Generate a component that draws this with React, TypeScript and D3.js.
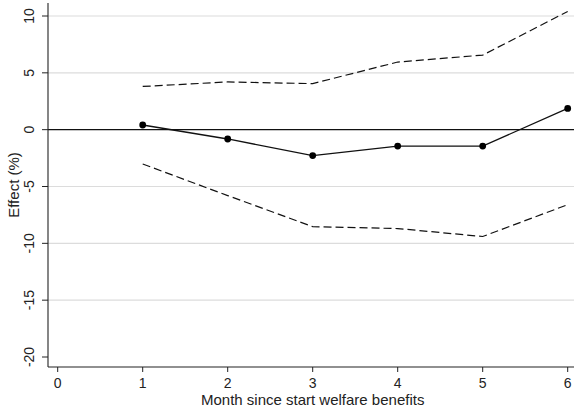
import React from "react";
import * as d3 from "d3";

const months = [1, 2, 3, 4, 5, 6];
const effect = [0.41, -0.82, -2.28, -1.44, -1.44, 1.87];
const upper = [3.8, 4.2, 4.05, 5.95, 6.56, 10.4];
const lower = [-3.02, -5.8, -8.53, -8.7, -9.4, -6.6];
const xTicks = [0, 1, 2, 3, 4, 5, 6];
const yTicks = [10, 5, 0, -5, -10, -15, -20];
const gridTicks = [10, 5, -5, -10, -15];

const W = 574;
const H = 411;
const FONT = "'Liberation Sans', Arial, Helvetica, sans-serif";

export default function App() {
  const x = d3.scaleLinear().domain([0, 6]).range([57.7, 567.7]);
  const y = d3.scaleLinear().domain([-20, 10]).range([357, 16]);
  const left = 48;
  const bottom = 367;
  const top = 3;

  const line = d3
    .line<number>()
    .x((_, i) => x(months[i]))
    .y((d) => y(d));

  return (
    <svg
      width={W}
      height={H}
      style={{ position: "absolute", left: 0, top: 0, background: "#fff" }}
      fontFamily={FONT}
    >
      <rect x={0} y={0} width={W} height={H} fill="#fff" />
      {gridTicks.map((t) => (
        <line key={t} x1={left} x2={W} y1={y(t)} y2={y(t)} stroke="#dcdcdc" strokeWidth={1.2} />
      ))}
      <line x1={left} x2={W} y1={y(0)} y2={y(0)} stroke="#111" strokeWidth={1.3} />
      <path d={line(upper) || ""} fill="none" stroke="#111" strokeWidth={1.2} strokeDasharray="8,4" />
      <path d={line(lower) || ""} fill="none" stroke="#111" strokeWidth={1.2} strokeDasharray="8,4" />
      <path d={line(effect) || ""} fill="none" stroke="#111" strokeWidth={1.3} />
      {effect.map((v, i) => (
        <circle key={i} cx={x(months[i])} cy={y(v)} r={3.4} fill="#000" />
      ))}
      {/* axes */}
      <line x1={left} x2={left} y1={top} y2={bottom} stroke="#222" strokeWidth={1.1} />
      <line x1={left} x2={W} y1={bottom} y2={bottom} stroke="#222" strokeWidth={1.1} />
      {yTicks.map((t) => (
        <g key={t}>
          <line x1={left - 6} x2={left} y1={y(t)} y2={y(t)} stroke="#222" strokeWidth={1} />
          <text
            transform={`translate(34,${y(t)}) rotate(-90)`}
            textAnchor="middle"
            fontSize={14}
            fill="#222"
          >
            {t}
          </text>
        </g>
      ))}
      {xTicks.map((t) => (
        <g key={t}>
          <line x1={x(t)} x2={x(t)} y1={bottom} y2={bottom + 5} stroke="#222" strokeWidth={1} />
          <text x={x(t)} y={388} textAnchor="middle" fontSize={14} fill="#222">
            {t}
          </text>
        </g>
      ))}
      <text x={x(3)} y={405} textAnchor="middle" fontSize={15} fill="#222">
        Month since start welfare benefits
      </text>
      <text
        transform={`translate(19,${(top + bottom) / 2}) rotate(-90)`}
        textAnchor="middle"
        fontSize={15}
        fill="#222"
      >
        Effect (%)
      </text>
    </svg>
  );
}
